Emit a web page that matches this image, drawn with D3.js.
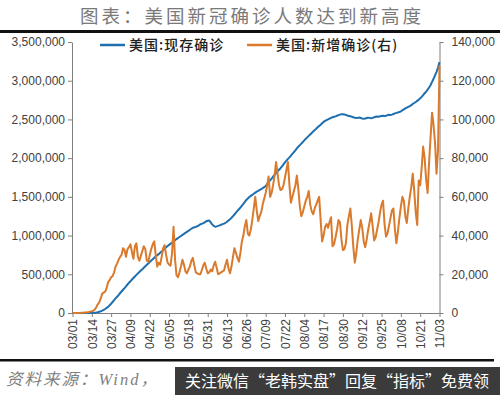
<!DOCTYPE html>
<html>
<head>
<meta charset="utf-8">
<script src="https://cdn.jsdelivr.net/npm/d3@7"></script>
<style>
html,body{margin:0;padding:0;background:#fff;}
svg{display:block;}
</style>
</head>
<body>
<div id="chart"></div>
<script>
// US covid: active cases (left, thousands) vs daily new cases (right, thousands), 2020-03-01 .. 2020-11-03
const startDay = '2020-03-01';
const xTickLabels = ['03/01','03/14','03/27','04/09','04/22','05/05','05/18','05/31','06/13','06/26',
  '07/09','07/22','08/04','08/17','08/30','09/12','09/25','10/08','10/21','11/03'];
const leftTicks = [0,500,1000,1500,2000,2500,3000,3500];
const rightTicks = [0,20,40,60,80,100,120,140];
const legendLabels = ['美国:现存确诊','美国:新增确诊(右)'];

// active cases, thousands
const activeK = [
  0.05,0.06,0.07,0.09,0.12,0.18,0.23,0.3,0.45,0.65,
  0.9,1.2,1.6,2,2.6,3.5,6,10,15,22,
  30,40,52,66,82,100,120,142,165,188,
  210,232,255,278,300,322,345,368,390,410,
  432,452,472,492,512,530,548,566,585,604,
  622,640,660,678,695,712,728,745,760,778,
  795,812,830,848,864,880,895,910,925,940,
  955,968,982,995,1008,1022,1035,1048,1060,1075,
  1088,1100,1108,1112,1120,1132,1145,1152,1160,1170,
  1185,1192,1196,1170,1145,1125,1115,1118,1125,1132,
  1140,1148,1155,1165,1178,1195,1212,1230,1250,1272,
  1295,1318,1340,1362,1385,1410,1435,1460,1480,1498,
  1512,1525,1540,1555,1568,1578,1590,1600,1612,1625,
  1640,1665,1690,1712,1735,1760,1785,1810,1830,1850,
  1870,1895,1920,1945,1968,1990,2010,2032,2055,2078,
  2100,2125,2148,2168,2188,2208,2230,2250,2268,2288,
  2305,2325,2345,2362,2380,2398,2415,2432,2450,2468,
  2482,2492,2500,2510,2520,2528,2534,2540,2548,2556,
  2562,2566,2568,2565,2558,2550,2545,2540,2535,2528,
  2522,2518,2520,2525,2518,2512,2508,2512,2518,2522,
  2520,2515,2520,2528,2535,2538,2535,2540,2545,2548,
  2545,2548,2555,2560,2558,2562,2570,2578,2585,2590,
  2595,2605,2618,2630,2642,2652,2662,2672,2685,2700,
  2712,2725,2740,2755,2772,2792,2815,2838,2860,2885,
  2912,2945,2985,3025,3070,3115,3170,3240
];

// daily new cases, thousands
const newK = [
  0,0,0,0,0,0,0.1,0.1,0.2,0.3,
  0.4,0.5,0.7,0.9,1.2,1.8,3,4.5,5.5,7.5,
  10,10.5,11,13,16,17,18.5,19,21,24,
  25.5,27.5,29,30,33.5,32.5,29,33,34,35.5,
  31.5,28,34.5,36,29,27,29.5,32,34.5,33,
  27,26.5,30,33,35.5,37,30,24,26,25,
  29,33.5,35,30,26,25,24.5,31,44.5,28,
  19.5,18.5,21,24,27.5,25,21.5,20.5,22.5,24,
  27,28.5,24.5,21,20.5,20,20,22,24.5,26,
  23,20.5,21,22.5,21.5,24.5,26.5,23.5,20,20.5,
  21,21.5,22,25,27.5,23,20.5,24,29,33.5,
  31,28.5,26.5,31,37,40,45,48,41,40,
  43,48,54,60,53,47.5,50,52,56,59,
  62,66,70.5,60,62,66,71,78,72,66,
  63.5,64,66,70,74,78,66,57,60,63,
  66,71,64,55,50,52,55,58,60,63,
  56,52.5,51,54,56,58,60,48,37,40,
  44.5,46,44,47,49.5,34.5,35.5,39,43,48,
  47,38,32.5,33,36,45.5,50,54,45,34,
  26,31,38,43,48,44,37,34,38,43,
  47,51.5,45,37.5,39,43,47,52,56,58,
  46,39.5,41,45,49,53,54,43,36,42,
  49,55,60,58,50,46.5,54,60,65,72,
  63,52,45.5,68.5,66,75,86,80,69,62,
  78,91,103.5,97,88,72,84,128
];

const W = 500, H = 395;
const plot = {left:72, right:439.5, top:42, bottom:313};
const blue = '#1f6fae', orange = '#d97a2c';
const tickFont = '"Liberation Sans", Arial, sans-serif';
const cjk = '"Noto Sans CJK SC", sans-serif';

const svg = d3.select('#chart').append('svg').attr('width',W).attr('height',H);

const t0 = d3.timeParse('%Y-%m-%d')(startDay);
const days = activeK.map((d,i)=>d3.timeDay.offset(t0,i));
const parseTick = d3.timeParse('%Y/%m/%d');
const tickDates = xTickLabels.map(s=>parseTick('2020/'+s));

const x = d3.scaleTime().domain([t0, days[days.length-1]]).range([plot.left+0.5, plot.right]);
const yL = d3.scaleLinear().domain([0,3500]).range([plot.bottom, plot.top]);
const yR = d3.scaleLinear().domain([0,140]).range([plot.bottom, plot.top]);

// title + rules
svg.append('text').attr('x',252).attr('y',23).attr('text-anchor','middle')
  .attr('font-family',cjk).attr('font-size',18.5).attr('letter-spacing',3)
  .attr('fill','#7a7a7a').text('图表：美国新冠确诊人数达到新高度');
svg.append('rect').attr('x',0).attr('y',30).attr('width',W).attr('height',3).attr('fill','#111');
svg.append('rect').attr('x',0).attr('y',359).attr('width',494).attr('height',2.5).attr('fill','#111');

function styleAxis(g){
  g.select('.domain').attr('stroke','#7f7f7f');
  g.selectAll('.tick line').attr('stroke','#7f7f7f');
  g.selectAll('text').attr('fill','#404040').attr('font-family',tickFont).attr('font-size',12);
}

const fmt = d3.format(',');
svg.append('g').attr('transform',`translate(${plot.left},0)`)
  .call(d3.axisLeft(yL).tickValues(leftTicks).tickSize(4).tickSizeOuter(0).tickPadding(3).tickFormat(d=>fmt(d*1000)))
  .call(styleAxis);
svg.append('g').attr('transform',`translate(${plot.right},0)`)
  .call(d3.axisRight(yR).tickValues(rightTicks).tickSize(4).tickSizeOuter(0).tickPadding(8).tickFormat(d=>fmt(d*1000)))
  .call(styleAxis);
const xg = svg.append('g').attr('transform',`translate(0,${plot.bottom})`)
  .call(d3.axisBottom(x).tickValues(tickDates).tickSize(4).tickSizeOuter(0).tickFormat((d,i)=>xTickLabels[i]))
  .call(styleAxis);
xg.select('.domain').attr('d',`M${plot.left},0.5H${plot.right}`);
xg.selectAll('.tick text').attr('transform','rotate(-90)').attr('x',-6).attr('y',0).attr('dy','0.35em')
  .attr('text-anchor','end');

// series
const lineL = d3.line().x((d,i)=>x(days[i])).y(d=>yL(d));
const lineR = d3.line().x((d,i)=>x(days[i])).y(d=>yR(d));
svg.append('path').datum(activeK).attr('d',lineL).attr('fill','none')
  .attr('stroke',blue).attr('stroke-width',2).attr('stroke-linejoin','round');
svg.append('path').datum(newK).attr('d',lineR).attr('fill','none')
  .attr('stroke',orange).attr('stroke-width',2).attr('stroke-linejoin','round');

// legend
const leg = [{c:blue,x:100},{c:orange,x:247}];
leg.forEach((l,i)=>{
  svg.append('line').attr('x1',l.x).attr('x2',l.x+25).attr('y1',45).attr('y2',45)
    .attr('stroke',l.c).attr('stroke-width',2.5);
  svg.append('text').attr('x',l.x+29).attr('y',50).attr('font-family',cjk).attr('font-size',14)
    .attr('font-weight',500).attr('letter-spacing',1).attr('fill','#222').text(legendLabels[i]);
});

// source + watermark
svg.append('text').attr('x',6).attr('y',385).attr('font-family','"Liberation Serif", "Noto Sans CJK SC", serif')
  .attr('font-style','italic').attr('font-size',16.5).attr('letter-spacing',2).attr('fill','#808080')
  .text('资料来源：Wind，');
svg.append('rect').attr('x',175).attr('y',367).attr('width',325).attr('height',28).attr('fill','#3b3b3b');
svg.append('text').attr('x',185).attr('y',387).attr('font-family',cjk).attr('font-size',16)
  .attr('fill','#fff').text('关注微信“老韩实盘”回复“指标”免费领');
</script>
</body>
</html>
